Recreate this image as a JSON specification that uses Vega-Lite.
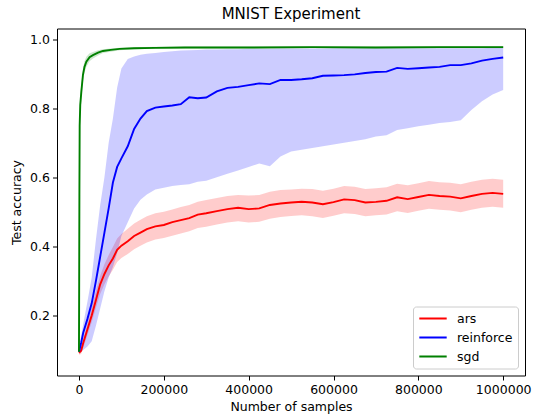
{
  "$schema": "https://vega.github.io/schema/vega-lite/v6.json",
  "width": 468,
  "height": 347,
  "autosize": {"type": "none"},
  "padding": {"left": 57, "top": 28.5, "right": 9, "bottom": 39.5},
  "config": {
    "font": "DejaVu Sans",
    "view": {"stroke": "black", "strokeWidth": 1},
    "axis": {
      "labelFont": "DejaVu Sans",
      "titleFont": "DejaVu Sans",
      "labelFontSize": 12.5,
      "titleFontSize": 12.5,
      "titleFontWeight": "normal",
      "labelColor": "black",
      "titleColor": "black",
      "tickColor": "black",
      "tickSize": 4.5,
      "tickWidth": 1,
      "domain": false,
      "grid": false,
      "labelFlush": false,
      "labelOverlap": false
    }
  },
  "title": {"text": "MNIST Experiment", "fontSize": 15, "fontWeight": "normal", "font": "DejaVu Sans", "color": "black", "offset": 7},
  "data": {
    "values": [
      {"series": "ars", "x": 0, "mean": 0.092, "lo": 0.086, "hi": 0.099},
      {"series": "ars", "x": 5000, "mean": 0.098, "lo": 0.088, "hi": 0.108},
      {"series": "ars", "x": 10000, "mean": 0.120, "lo": 0.106, "hi": 0.133},
      {"series": "ars", "x": 20000, "mean": 0.160, "lo": 0.143, "hi": 0.177},
      {"series": "ars", "x": 30000, "mean": 0.200, "lo": 0.180, "hi": 0.222},
      {"series": "ars", "x": 40000, "mean": 0.245, "lo": 0.222, "hi": 0.270},
      {"series": "ars", "x": 50000, "mean": 0.290, "lo": 0.262, "hi": 0.315},
      {"series": "ars", "x": 60000, "mean": 0.320, "lo": 0.290, "hi": 0.348},
      {"series": "ars", "x": 70000, "mean": 0.345, "lo": 0.313, "hi": 0.375},
      {"series": "ars", "x": 80000, "mean": 0.365, "lo": 0.332, "hi": 0.398},
      {"series": "ars", "x": 90000, "mean": 0.390, "lo": 0.355, "hi": 0.423},
      {"series": "ars", "x": 100000, "mean": 0.402, "lo": 0.366, "hi": 0.436},
      {"series": "ars", "x": 115000, "mean": 0.415, "lo": 0.378, "hi": 0.451},
      {"series": "ars", "x": 130000, "mean": 0.430, "lo": 0.392, "hi": 0.466},
      {"series": "ars", "x": 145000, "mean": 0.440, "lo": 0.402, "hi": 0.477},
      {"series": "ars", "x": 160000, "mean": 0.450, "lo": 0.411, "hi": 0.487},
      {"series": "ars", "x": 180000, "mean": 0.458, "lo": 0.420, "hi": 0.496},
      {"series": "ars", "x": 200000, "mean": 0.462, "lo": 0.424, "hi": 0.500},
      {"series": "ars", "x": 220000, "mean": 0.470, "lo": 0.431, "hi": 0.507},
      {"series": "ars", "x": 240000, "mean": 0.476, "lo": 0.437, "hi": 0.514},
      {"series": "ars", "x": 260000, "mean": 0.482, "lo": 0.444, "hi": 0.520},
      {"series": "ars", "x": 280000, "mean": 0.492, "lo": 0.453, "hi": 0.529},
      {"series": "ars", "x": 300000, "mean": 0.496, "lo": 0.457, "hi": 0.534},
      {"series": "ars", "x": 325000, "mean": 0.502, "lo": 0.463, "hi": 0.540},
      {"series": "ars", "x": 350000, "mean": 0.508, "lo": 0.469, "hi": 0.546},
      {"series": "ars", "x": 375000, "mean": 0.512, "lo": 0.473, "hi": 0.549},
      {"series": "ars", "x": 400000, "mean": 0.508, "lo": 0.469, "hi": 0.547},
      {"series": "ars", "x": 425000, "mean": 0.510, "lo": 0.471, "hi": 0.549},
      {"series": "ars", "x": 450000, "mean": 0.520, "lo": 0.480, "hi": 0.558},
      {"series": "ars", "x": 475000, "mean": 0.524, "lo": 0.485, "hi": 0.563},
      {"series": "ars", "x": 500000, "mean": 0.527, "lo": 0.488, "hi": 0.565},
      {"series": "ars", "x": 525000, "mean": 0.529, "lo": 0.490, "hi": 0.567},
      {"series": "ars", "x": 550000, "mean": 0.527, "lo": 0.487, "hi": 0.566},
      {"series": "ars", "x": 575000, "mean": 0.522, "lo": 0.482, "hi": 0.561},
      {"series": "ars", "x": 600000, "mean": 0.528, "lo": 0.489, "hi": 0.567},
      {"series": "ars", "x": 625000, "mean": 0.536, "lo": 0.496, "hi": 0.575},
      {"series": "ars", "x": 650000, "mean": 0.534, "lo": 0.494, "hi": 0.573},
      {"series": "ars", "x": 675000, "mean": 0.527, "lo": 0.487, "hi": 0.566},
      {"series": "ars", "x": 700000, "mean": 0.529, "lo": 0.490, "hi": 0.568},
      {"series": "ars", "x": 725000, "mean": 0.532, "lo": 0.492, "hi": 0.571},
      {"series": "ars", "x": 750000, "mean": 0.542, "lo": 0.502, "hi": 0.581},
      {"series": "ars", "x": 775000, "mean": 0.537, "lo": 0.497, "hi": 0.577},
      {"series": "ars", "x": 800000, "mean": 0.543, "lo": 0.503, "hi": 0.583},
      {"series": "ars", "x": 825000, "mean": 0.549, "lo": 0.509, "hi": 0.589},
      {"series": "ars", "x": 850000, "mean": 0.546, "lo": 0.506, "hi": 0.586},
      {"series": "ars", "x": 875000, "mean": 0.544, "lo": 0.504, "hi": 0.584},
      {"series": "ars", "x": 900000, "mean": 0.539, "lo": 0.499, "hi": 0.580},
      {"series": "ars", "x": 925000, "mean": 0.546, "lo": 0.506, "hi": 0.587},
      {"series": "ars", "x": 950000, "mean": 0.552, "lo": 0.512, "hi": 0.593},
      {"series": "ars", "x": 975000, "mean": 0.555, "lo": 0.515, "hi": 0.596},
      {"series": "ars", "x": 1000000, "mean": 0.552, "lo": 0.512, "hi": 0.593},
      {"series": "reinforce", "x": 0, "mean": 0.095, "lo": 0.088, "hi": 0.100},
      {"series": "reinforce", "x": 5000, "mean": 0.120, "lo": 0.095, "hi": 0.140},
      {"series": "reinforce", "x": 10000, "mean": 0.150, "lo": 0.100, "hi": 0.175},
      {"series": "reinforce", "x": 20000, "mean": 0.190, "lo": 0.110, "hi": 0.240},
      {"series": "reinforce", "x": 30000, "mean": 0.235, "lo": 0.125, "hi": 0.310},
      {"series": "reinforce", "x": 40000, "mean": 0.300, "lo": 0.170, "hi": 0.420},
      {"series": "reinforce", "x": 50000, "mean": 0.370, "lo": 0.220, "hi": 0.520},
      {"series": "reinforce", "x": 60000, "mean": 0.440, "lo": 0.270, "hi": 0.600},
      {"series": "reinforce", "x": 70000, "mean": 0.510, "lo": 0.310, "hi": 0.700},
      {"series": "reinforce", "x": 80000, "mean": 0.585, "lo": 0.340, "hi": 0.770},
      {"series": "reinforce", "x": 90000, "mean": 0.630, "lo": 0.380, "hi": 0.860},
      {"series": "reinforce", "x": 100000, "mean": 0.655, "lo": 0.430, "hi": 0.915},
      {"series": "reinforce", "x": 115000, "mean": 0.690, "lo": 0.470, "hi": 0.943},
      {"series": "reinforce", "x": 130000, "mean": 0.740, "lo": 0.510, "hi": 0.950},
      {"series": "reinforce", "x": 145000, "mean": 0.770, "lo": 0.535, "hi": 0.955},
      {"series": "reinforce", "x": 160000, "mean": 0.792, "lo": 0.550, "hi": 0.958},
      {"series": "reinforce", "x": 180000, "mean": 0.802, "lo": 0.565, "hi": 0.960},
      {"series": "reinforce", "x": 200000, "mean": 0.805, "lo": 0.570, "hi": 0.963},
      {"series": "reinforce", "x": 220000, "mean": 0.808, "lo": 0.575, "hi": 0.965},
      {"series": "reinforce", "x": 240000, "mean": 0.812, "lo": 0.578, "hi": 0.967},
      {"series": "reinforce", "x": 260000, "mean": 0.832, "lo": 0.580, "hi": 0.968},
      {"series": "reinforce", "x": 280000, "mean": 0.829, "lo": 0.587, "hi": 0.969},
      {"series": "reinforce", "x": 300000, "mean": 0.831, "lo": 0.590, "hi": 0.970},
      {"series": "reinforce", "x": 325000, "mean": 0.849, "lo": 0.600, "hi": 0.970},
      {"series": "reinforce", "x": 350000, "mean": 0.859, "lo": 0.610, "hi": 0.971},
      {"series": "reinforce", "x": 375000, "mean": 0.862, "lo": 0.620, "hi": 0.971},
      {"series": "reinforce", "x": 400000, "mean": 0.867, "lo": 0.630, "hi": 0.972},
      {"series": "reinforce", "x": 425000, "mean": 0.872, "lo": 0.640, "hi": 0.972},
      {"series": "reinforce", "x": 450000, "mean": 0.870, "lo": 0.632, "hi": 0.972},
      {"series": "reinforce", "x": 475000, "mean": 0.882, "lo": 0.660, "hi": 0.973},
      {"series": "reinforce", "x": 500000, "mean": 0.882, "lo": 0.675, "hi": 0.973},
      {"series": "reinforce", "x": 525000, "mean": 0.884, "lo": 0.680, "hi": 0.973},
      {"series": "reinforce", "x": 550000, "mean": 0.887, "lo": 0.685, "hi": 0.973},
      {"series": "reinforce", "x": 575000, "mean": 0.894, "lo": 0.690, "hi": 0.973},
      {"series": "reinforce", "x": 600000, "mean": 0.895, "lo": 0.695, "hi": 0.974},
      {"series": "reinforce", "x": 625000, "mean": 0.896, "lo": 0.700, "hi": 0.974},
      {"series": "reinforce", "x": 650000, "mean": 0.898, "lo": 0.705, "hi": 0.974},
      {"series": "reinforce", "x": 675000, "mean": 0.902, "lo": 0.710, "hi": 0.974},
      {"series": "reinforce", "x": 700000, "mean": 0.905, "lo": 0.718, "hi": 0.974},
      {"series": "reinforce", "x": 725000, "mean": 0.906, "lo": 0.722, "hi": 0.974},
      {"series": "reinforce", "x": 750000, "mean": 0.917, "lo": 0.737, "hi": 0.974},
      {"series": "reinforce", "x": 775000, "mean": 0.914, "lo": 0.742, "hi": 0.974},
      {"series": "reinforce", "x": 800000, "mean": 0.916, "lo": 0.748, "hi": 0.974},
      {"series": "reinforce", "x": 825000, "mean": 0.918, "lo": 0.752, "hi": 0.974},
      {"series": "reinforce", "x": 850000, "mean": 0.920, "lo": 0.757, "hi": 0.974},
      {"series": "reinforce", "x": 875000, "mean": 0.925, "lo": 0.760, "hi": 0.974},
      {"series": "reinforce", "x": 900000, "mean": 0.925, "lo": 0.765, "hi": 0.974},
      {"series": "reinforce", "x": 925000, "mean": 0.930, "lo": 0.795, "hi": 0.974},
      {"series": "reinforce", "x": 950000, "mean": 0.938, "lo": 0.820, "hi": 0.974},
      {"series": "reinforce", "x": 975000, "mean": 0.943, "lo": 0.840, "hi": 0.975},
      {"series": "reinforce", "x": 1000000, "mean": 0.947, "lo": 0.853, "hi": 0.975},
      {"series": "sgd", "x": 0, "mean": 0.095, "lo": 0.090, "hi": 0.100},
      {"series": "sgd", "x": 500, "mean": 0.30, "lo": 0.27, "hi": 0.33},
      {"series": "sgd", "x": 1000, "mean": 0.55, "lo": 0.50, "hi": 0.60},
      {"series": "sgd", "x": 1650, "mean": 0.75, "lo": 0.71, "hi": 0.79},
      {"series": "sgd", "x": 3000, "mean": 0.81, "lo": 0.78, "hi": 0.84},
      {"series": "sgd", "x": 5600, "mean": 0.848, "lo": 0.825, "hi": 0.870},
      {"series": "sgd", "x": 9400, "mean": 0.897, "lo": 0.878, "hi": 0.915},
      {"series": "sgd", "x": 13000, "mean": 0.920, "lo": 0.903, "hi": 0.936},
      {"series": "sgd", "x": 17400, "mean": 0.935, "lo": 0.920, "hi": 0.949},
      {"series": "sgd", "x": 25000, "mean": 0.948, "lo": 0.936, "hi": 0.959},
      {"series": "sgd", "x": 33000, "mean": 0.954, "lo": 0.944, "hi": 0.963},
      {"series": "sgd", "x": 45000, "mean": 0.961, "lo": 0.953, "hi": 0.968},
      {"series": "sgd", "x": 56500, "mean": 0.966, "lo": 0.960, "hi": 0.971},
      {"series": "sgd", "x": 75000, "mean": 0.969, "lo": 0.964, "hi": 0.973},
      {"series": "sgd", "x": 96000, "mean": 0.972, "lo": 0.968, "hi": 0.975},
      {"series": "sgd", "x": 130000, "mean": 0.974, "lo": 0.971, "hi": 0.977},
      {"series": "sgd", "x": 180000, "mean": 0.975, "lo": 0.972, "hi": 0.978},
      {"series": "sgd", "x": 250000, "mean": 0.976, "lo": 0.973, "hi": 0.979},
      {"series": "sgd", "x": 400000, "mean": 0.976, "lo": 0.973, "hi": 0.979},
      {"series": "sgd", "x": 550000, "mean": 0.977, "lo": 0.974, "hi": 0.980},
      {"series": "sgd", "x": 700000, "mean": 0.976, "lo": 0.973, "hi": 0.979},
      {"series": "sgd", "x": 850000, "mean": 0.977, "lo": 0.974, "hi": 0.980},
      {"series": "sgd", "x": 1000000, "mean": 0.977, "lo": 0.974, "hi": 0.980}
    ]
  },
  "encoding": {
    "x": {
      "field": "x",
      "type": "quantitative",
      "scale": {"domain": [-51800, 1051400], "nice": false, "zero": false},
      "axis": {"values": [0, 200000, 400000, 600000, 800000, 1000000], "format": "d", "title": "Number of samples", "labelPadding": 3, "titlePadding": 5}
    }
  },
  "layer": [
    {
      "transform": [{"filter": "datum.series === 'ars'"}],
      "mark": {"type": "area", "color": "#ff0000", "fillOpacity": 0.2, "strokeWidth": 0},
      "encoding": {
        "y": {"field": "lo", "type": "quantitative"},
        "y2": {"field": "hi"}
      }
    },
    {
      "transform": [{"filter": "datum.series === 'reinforce'"}],
      "mark": {"type": "area", "color": "#0000ff", "fillOpacity": 0.2, "strokeWidth": 0},
      "encoding": {
        "y": {"field": "lo", "type": "quantitative"},
        "y2": {"field": "hi"}
      }
    },
    {
      "transform": [{"filter": "datum.series === 'sgd'"}],
      "mark": {"type": "area", "color": "#008000", "fillOpacity": 0.2, "strokeWidth": 0},
      "encoding": {
        "y": {"field": "lo", "type": "quantitative"},
        "y2": {"field": "hi"}
      }
    },
    {
      "mark": {"type": "line", "strokeWidth": 1.9},
      "encoding": {
        "y": {
          "field": "mean",
          "type": "quantitative",
          "scale": {"domain": [0.026, 1.031], "nice": false, "zero": false},
          "axis": {"values": [0.2, 0.4, 0.6, 0.8, 1.0], "format": ".1f", "title": "Test accuracy", "labelPadding": 3, "titlePadding": 6}
        },
        "color": {
          "field": "series",
          "type": "nominal",
          "scale": {"domain": ["ars", "reinforce", "sgd"], "range": ["#ff0000", "#0000ff", "#008000"]},
          "legend": {
            "title": null,
            "orient": "bottom-right",
            "offset": 7,
            "padding": 5,
            "strokeColor": "#cccccc",
            "cornerRadius": 3,
            "fillColor": "rgba(255,255,255,0.8)",
            "symbolType": "stroke",
            "symbolStrokeWidth": 2,
            "symbolSize": 750,
            "labelFontSize": 12.5,
            "labelFont": "DejaVu Sans",
            "labelColor": "black",
            "labelOffset": 9,
            "rowPadding": 5,
            "clipHeight": 14
          }
        }
      }
    }
  ]
}
